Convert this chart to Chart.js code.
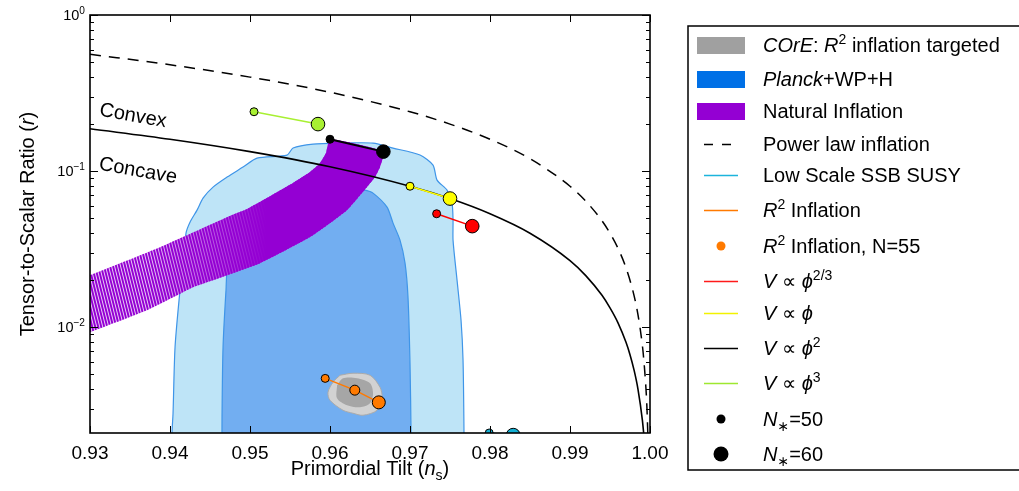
<!DOCTYPE html>
<html>
<head>
<meta charset="utf-8">
<title>ns - r plane</title>
<script src="https://cdn.jsdelivr.net/npm/chart.js@4"></script>
<style>
  html, body { margin: 0; padding: 0; background: #fff; }
</style>
</head>
<body>
<canvas id="myChart" width="1019" height="491"></canvas>
<script>
// axis ticks
var xTicks = [0.93, 0.94, 0.95, 0.96, 0.97, 0.98, 0.99, 1.00];
var xTickLabels = ['0.93', '0.94', '0.95', '0.96', '0.97', '0.98', '0.99', '1.00'];
var yTicks = [1, 0.1, 0.01];
var yTickExps = ['0', '\u22121', '\u22122'];

// Planck+WP+H, 95% and 68% regions (outline, runs below the axis)
var planck95Ns = [0.94025, 0.94025, 0.94038, 0.94063, 0.94125, 0.942, 0.9425, 0.94338, 0.94413, 0.94538, 0.94713,
  0.94913, 0.95088, 0.95463, 0.95538, 0.95788, 0.96125, 0.96538, 0.96788, 0.97125, 0.97288, 0.97338, 0.97463,
  0.97525, 0.97538, 0.97538, 0.97588, 0.97638, 0.97663, 0.97675, 0.97675];
var planck95R = [0.0012, 0.00209, 0.00281, 0.00744, 0.01727, 0.04005, 0.0471, 0.05623, 0.06713, 0.07897, 0.09152,
  0.1061, 0.1212, 0.1267, 0.1405, 0.149, 0.1512, 0.1512, 0.1405, 0.1267, 0.1093, 0.08757, 0.07555,
  0.06235, 0.04852, 0.03611, 0.02001, 0.01109, 0.00614, 0.00209, 0.0012];
var planck68Ns = [0.9465, 0.9465, 0.94663, 0.947, 0.94725, 0.94875, 0.9525, 0.95625, 0.96, 0.96313, 0.96438,
  0.96538, 0.96713, 0.96788, 0.96875, 0.96938, 0.96975, 0.97, 0.97013, 0.97013];
var planck68R = [0.0012, 0.00253, 0.00744, 0.01727, 0.02496, 0.03354, 0.0471, 0.06054, 0.07335, 0.07667, 0.07555,
  0.07228, 0.05875, 0.04642, 0.03611, 0.02572, 0.01557, 0.00588, 0.00209, 0.0012];

// COrE forecast for R^2 inflation
var core95Ns = [0.96125, 0.96288, 0.965, 0.96625, 0.9665, 0.96588, 0.96413, 0.96288, 0.96163, 0.96, 0.95975, 0.96038, 0.96125];
var core95R = [0.004924, 0.005071, 0.004924, 0.004125, 0.003559, 0.002937, 0.002728, 0.00281, 0.002937, 0.003404, 0.003831, 0.004441, 0.004924];
var core68Ns = [0.96088, 0.96163, 0.96338, 0.965, 0.96538, 0.965, 0.96375, 0.96213, 0.96088, 0.96088];
var core68R = [0.004249, 0.004711, 0.004711, 0.004375, 0.003775, 0.003257, 0.00307, 0.003162, 0.003507, 0.004249];

// natural inflation band: N=50 edge up to the phi^2 limit, back along N=60
var naturalNs = [0.929, 0.93, 0.93875, 0.94713, 0.94963, 0.95538, 0.9575, 0.95875, 0.9595, 0.96,
  0.96667, 0.96625, 0.96563, 0.96463, 0.96213, 0.9575, 0.95125, 0.94538, 0.94288, 0.93713, 0.93, 0.929];
var naturalR = [0.02056, 0.02154, 0.03257, 0.0507, 0.0571, 0.0838, 0.0985, 0.1125, 0.1304, 0.16,
  0.1333, 0.1061, 0.0915, 0.079, 0.0562, 0.0378, 0.0257, 0.02, 0.01805, 0.01285, 0.00929, 0.00887];

// power law inflation and the linear (convex/concave) boundary
var powerNs = [0.93, 0.94, 0.95, 0.96, 0.97, 0.975, 0.98, 0.985, 0.99, 0.992, 0.994, 0.995, 0.996, 0.997,
  0.998, 0.9985, 0.999, 0.9992, 0.9995, 0.9996, 0.9998];
var powerR = [0.56, 0.48, 0.40, 0.32, 0.24, 0.20, 0.16, 0.12, 0.08, 0.064, 0.048, 0.04, 0.032, 0.024,
  0.016, 0.012, 0.008, 0.0064, 0.004, 0.0032, 0.0016];
var linearNs = [0.93, 0.94, 0.95, 0.96, 0.97, 0.975, 0.98, 0.985, 0.99, 0.992, 0.994, 0.995, 0.996, 0.997,
  0.9975, 0.998, 0.9985, 0.99905, 0.9993];
var linearR = [0.1867, 0.16, 0.1333, 0.1067, 0.08, 0.0667, 0.0533, 0.04, 0.0267, 0.02133, 0.016, 0.0133, 0.01067, 0.008,
  0.00667, 0.00533, 0.004, 0.00253, 0.00187];

// monomial potentials at N=50 and N=60
var phi23Ns = [0.97333, 0.97778], phi23R = [0.0533, 0.0444];
var phi1Ns = [0.97, 0.975], phi1R = [0.08, 0.0667];
var phi2Ns = [0.96, 0.96667], phi2R = [0.16, 0.1333];
var phi3Ns = [0.9505, 0.9585], phi3R = [0.24, 0.2];
// R^2 inflation at N=50, 55, 60
var r2Ns = [0.9594, 0.9631, 0.9661], r2R = [0.0047, 0.00395, 0.0033];
// low scale SSB SUSY, r at the bottom of the plotted range
var susyNs = [0.9799, 0.9829], susyR = [0.0021, 0.00203];

var FONT = '"Liberation Sans", "DejaVu Sans", sans-serif';
var PURPLE = '#9400d3';

function pts(xs, ys) {
  return xs.map(function (x, i) { return { x: x, y: ys[i] }; });
}

function stripes() {
  var c = document.createElement('canvas');
  c.width = 3; c.height = 12;
  var g = c.getContext('2d');
  g.fillStyle = PURPLE;
  g.fillRect(0, 0, 3, 12);
  g.strokeStyle = 'rgba(255,255,255,0.9)';
  g.lineWidth = 0.9;
  [-3, 0, 3].forEach(function (dx) {
    g.beginPath();
    g.moveTo(dx - 1, -4);
    g.lineTo(dx + 4, 16);
    g.stroke();
  });
  return g.createPattern(c, 'repeat');
}

function region(data, fillColor, edge, edgeWidth, order, tension) {
  return {
    data: data, order: order, fill: 'shape', backgroundColor: fillColor,
    borderColor: edge || 'transparent', borderWidth: edgeWidth || 0,
    pointRadius: 0, tension: tension || 0
  };
}

function curve(xs, ys, width, dash) {
  return {
    data: pts(xs, ys), order: 4, fill: false, borderColor: '#000', borderWidth: width,
    borderDash: dash || [], pointRadius: 0, cubicInterpolationMode: 'monotone'
  };
}

function pair(xs, ys, color, radii, width) {
  return {
    data: pts(xs, ys), order: 1, fill: false, borderColor: color, borderWidth: width || 1.5,
    pointRadius: radii, pointBackgroundColor: color, pointBorderColor: '#000', pointBorderWidth: 1
  };
}

// draws text runs: [text, style] with style '', 'i', 'sup', 'sub'
function drawRich(ctx, parts, x, y, size, measureOnly) {
  parts.forEach(function (p) {
    var st = p[1] || '', fs = size, dy = 0;
    if (st.indexOf('sup') >= 0) { fs = size * 0.7; dy = -size * 0.4; }
    if (st.indexOf('sub') >= 0) { fs = size * 0.7; dy = size * 0.25; }
    ctx.font = (st.charAt(0) === 'i' ? 'italic ' : '') + fs + 'px ' + FONT;
    if (!measureOnly) ctx.fillText(p[0], x, y + dy);
    x += ctx.measureText(p[0]).width;
  });
  return x;
}

var axesPlugin = {
  id: 'axes',
  afterDatasetsDraw: function (chart) {
    var ctx = chart.ctx, a = chart.chartArea, sx = chart.scales.x, sy = chart.scales.y;
    ctx.save();
    ctx.strokeStyle = '#000';
    ctx.lineWidth = 1;
    ctx.beginPath();
    xTicks.forEach(function (v) {
      var px = Math.round(sx.getPixelForValue(v)) + 0.5;
      ctx.moveTo(px, a.bottom); ctx.lineTo(px, a.bottom - 7);
      ctx.moveTo(px, a.top); ctx.lineTo(px, a.top + 7);
    });
    for (var e = -3; e <= 0; e++) {
      for (var s = 1; s <= 9; s++) {
        var v = s * Math.pow(10, e);
        if (v < sy.min || v > sy.max * 1.0001) continue;
        var py = Math.round(sy.getPixelForValue(v)) + 0.5;
        var len = s === 1 ? 8 : 4;
        ctx.moveTo(a.left, py); ctx.lineTo(a.left + len, py);
        ctx.moveTo(a.right, py); ctx.lineTo(a.right - len, py);
      }
    }
    ctx.stroke();
    ctx.lineWidth = 1.6;
    ctx.strokeRect(a.left, a.top, a.right - a.left, a.bottom - a.top);

    // y tick labels 10^n
    ctx.fillStyle = '#000';
    ctx.textBaseline = 'alphabetic';
    yTicks.forEach(function (v, i) {
      var py = sy.getPixelForValue(v);
      var parts = [['10', ''], [yTickExps[i], 'sup']];
      var w = drawRich(ctx, parts, 0, 0, 14.5, true);
      drawRich(ctx, parts, a.left - 5 - w, py + 5, 14.5);
    });

    // axis titles
    var xt = [['Primordial Tilt (', ''], ['n', 'i'], ['s', 'sub'], [')', '']];
    var wx = drawRich(ctx, xt, 0, 0, 20, true);
    drawRich(ctx, xt, (a.left + a.right) / 2 - wx / 2, 475, 20);
    var yt = [['Tensor-to-Scalar Ratio (', ''], ['r', 'i'], [')', '']];
    var wy = drawRich(ctx, yt, 0, 0, 20, true);
    ctx.save();
    ctx.translate(34, (a.top + a.bottom) / 2);
    ctx.rotate(-Math.PI / 2);
    drawRich(ctx, yt, -wy / 2, 0, 20);
    ctx.restore();

    // labels either side of the linear potential line
    ctx.font = '20px ' + FONT;
    ctx.textAlign = 'center';
    ctx.textBaseline = 'middle';
    [['Convex', 133, 116], ['Concave', 138, 171]].forEach(function (t) {
      ctx.save();
      ctx.translate(t[1], t[2]);
      ctx.rotate(10 * Math.PI / 180);
      ctx.fillText(t[0], 0, 0);
      ctx.restore();
    });
    ctx.restore();
  }
};

var PHI = '\u03d5';
var legendItems = [
  { kind: 'patch', color: '#a0a0a0', y: 45, text: [['COrE', 'i'], [': ', ''], ['R', 'i'], ['2', 'sup'], [' inflation targeted', '']] },
  { kind: 'patch', color: '#0070e6', y: 79, text: [['Planck', 'i'], ['+WP+H', '']] },
  { kind: 'patch', color: PURPLE, y: 111, text: [['Natural Inflation', '']] },
  { kind: 'dash', color: '#000', y: 144, text: [['Power law inflation', '']] },
  { kind: 'line', color: '#1cb4dc', y: 175, text: [['Low Scale SSB SUSY', '']] },
  { kind: 'line', color: '#ff7a00', y: 210, text: [['R', 'i'], ['2', 'sup'], [' Inflation', '']] },
  { kind: 'dot', color: '#ff7a00', r: 4.5, y: 246, text: [['R', 'i'], ['2', 'sup'], [' Inflation, N=55', '']] },
  { kind: 'line', color: '#ff1a1a', y: 281, text: [['V', 'i'], [' \u221d ', ''], [PHI, 'i'], ['2/3', 'sup']] },
  { kind: 'line', color: '#f2f200', y: 313, text: [['V', 'i'], [' \u221d ', ''], [PHI, 'i']] },
  { kind: 'line', color: '#000', y: 348, text: [['V', 'i'], [' \u221d ', ''], [PHI, 'i'], ['2', 'sup']] },
  { kind: 'line', color: '#9ee830', y: 383, text: [['V', 'i'], [' \u221d ', ''], [PHI, 'i'], ['3', 'sup']] },
  { kind: 'dot', color: '#000', r: 4.5, y: 419, text: [['N', 'i'], ['\u2217', 'sub'], ['=50', '']] },
  { kind: 'dot', color: '#000', r: 7.5, y: 454, text: [['N', 'i'], ['\u2217', 'sub'], ['=60', '']] }
];

var legendPlugin = {
  id: 'sideLegend',
  afterDraw: function (chart) {
    var ctx = chart.ctx;
    ctx.save();
    ctx.fillStyle = '#fff';
    ctx.fillRect(688, 26, 400, 444);
    ctx.strokeStyle = '#000';
    ctx.lineWidth = 1.5;
    ctx.strokeRect(688, 26, 400, 444);
    legendItems.forEach(function (it) {
      var y = it.y;
      if (it.kind === 'patch') {
        ctx.fillStyle = it.color;
        ctx.fillRect(697, y - 8, 48, 17);
      } else if (it.kind === 'line' || it.kind === 'dash') {
        ctx.strokeStyle = it.color;
        ctx.lineWidth = 1.5;
        ctx.setLineDash(it.kind === 'dash' ? [9, 9] : []);
        ctx.beginPath();
        ctx.moveTo(704, y + 0.5);
        ctx.lineTo(738, y + 0.5);
        ctx.stroke();
        ctx.setLineDash([]);
      } else {
        ctx.fillStyle = it.color;
        ctx.beginPath();
        ctx.arc(721, y, it.r, 0, Math.PI * 2);
        ctx.fill();
      }
      ctx.fillStyle = '#000';
      ctx.textBaseline = 'alphabetic';
      drawRich(ctx, it.text, 763, y + 7, 20);
    });
    ctx.restore();
  }
};

var ctx = document.getElementById('myChart').getContext('2d');
var stripeFill = stripes();

var chart = new Chart(ctx, {
  type: 'line',
  data: {
    datasets: [
      region(pts(planck95Ns, planck95R), '#bee4f7', '#3f95e8', 1.2, 10, 0.25),
      region(pts(planck68Ns, planck68R), '#72aef1', '#3f95e8', 1.2, 9, 0.25),
      region(pts(naturalNs, naturalR), stripeFill, null, 0, 8, 0.15),
      region(pts(naturalNs, naturalR), function (c) {
        var ch = c.chart;
        if (!ch.chartArea) return PURPLE;
        var sx = ch.scales.x;
        var g = ch.ctx.createLinearGradient(sx.getPixelForValue(0.937), 0, sx.getPixelForValue(0.952), 0);
        g.addColorStop(0, 'rgba(148,0,211,0)');
        g.addColorStop(1, 'rgba(148,0,211,1)');
        return g;
      }, null, 0, 7, 0.15),
      region(pts(core95Ns, core95R), '#d2d2d2', '#ababab', 1, 6, 0.3),
      region(pts(core68Ns, core68R), '#a6a6a6', null, 0, 5, 0.3),
      curve(powerNs, powerR, 1.5, [11, 8]),
      curve(linearNs, linearR, 1.6),
      pair(phi3Ns, phi3R, '#a8f032', [4, 6.8]),
      pair(phi2Ns, phi2R, '#000', [4, 6.8], 2),
      pair(phi1Ns, phi1R, '#ffff00', [4, 6.8]),
      pair(phi23Ns, phi23R, '#ff0000', [4, 6.8]),
      pair(r2Ns, r2R, '#ff7a00', [4, 5, 6.5]),
      pair(susyNs, susyR, '#14b0d4', [4, 7])
    ]
  },
  options: {
    responsive: false,
    animation: false,
    events: [],
    layout: { padding: { top: 15, left: 90, right: 369, bottom: 0 } },
    plugins: { legend: { display: false }, tooltip: { enabled: false } },
    scales: {
      x: {
        type: 'linear', min: 0.93, max: 1.0,
        grid: { display: false, drawTicks: false },
        border: { display: false },
        afterBuildTicks: function (s) { s.ticks = xTicks.map(function (v) { return { value: v }; }); },
        afterFit: function (s) { s.height = 58; },
        ticks: {
          callback: function (v, i) { return xTickLabels[i]; },
          font: { family: FONT, size: 19 }, color: '#000', padding: 9,
          maxRotation: 0, autoSkip: false
        }
      },
      y: { type: 'logarithmic', min: 0.0021, max: 1, display: false }
    }
  },
  plugins: [axesPlugin, legendPlugin]
});
</script>
</body>
</html>
